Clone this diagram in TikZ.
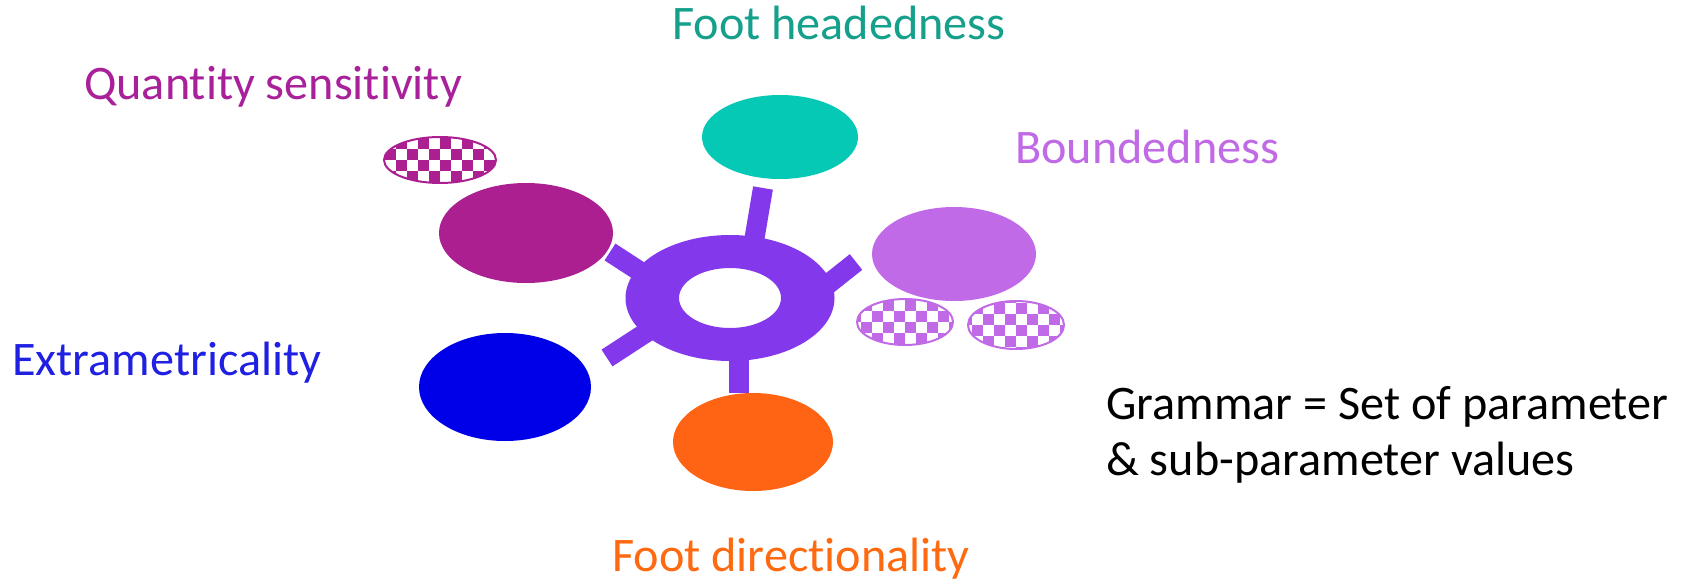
\documentclass[tikz,border=0pt]{standalone}
\usepackage{fontspec}
\setmainfont{Carlito}[Ligatures={NoCommon}]
\usetikzlibrary{shapes.geometric}
\definecolor{tealF}{HTML}{05C8B5}
\definecolor{tealT}{HTML}{14A08A}
\definecolor{magF}{HTML}{AB1F90}
\definecolor{magT}{HTML}{A8219A}
\definecolor{lilF}{HTML}{C06AE8}
\definecolor{lilT}{HTML}{C06AE6}
\definecolor{bluF}{HTML}{0000E8}
\definecolor{bluT}{HTML}{2020E2}
\definecolor{orgF}{HTML}{FF6415}
\definecolor{orgT}{HTML}{FF6A10}
\definecolor{hubC}{HTML}{8338EC}
\newcommand{\checkell}[5]{%
  \begin{scope}
    \clip (#1,#2) ellipse [x radius=#3, y radius=#4];
    \foreach \i in {-6,...,5}{
      \foreach \j in {-3,...,2}{
        \pgfmathtruncatemacro{\pty}{mod(\i+\j+20,2)}
        \ifnum\pty=0
          \fill[#5] ({#1+\i*11},{#2+\j*11}) rectangle ++(11,11);
        \fi
      }
    }
  \end{scope}
  \draw[#5, line width=2] (#1,#2) ellipse [x radius=#3, y radius=#4];
}
\begin{document}
\begin{tikzpicture}[x=1pt,y=-1pt,
  blob/.style={ellipse, draw=none, inner sep=0pt},
  lab/.style={anchor=base west, inner sep=0pt, font=\fontsize{48.2}{56}\selectfont},
  spoke/.style={hubC, line width=20pt, line cap=butt}]
\useasboundingbox (0,0) rectangle (1683,581);
% ellipses
\node[blob, fill=tealF, minimum width=156, minimum height=84] (fh) at (780,137) {};
\node[blob, fill=magF, minimum width=174, minimum height=100] (qs) at (526,233) {};
\node[blob, fill=bluF, minimum width=172, minimum height=108] (ex) at (505,387) {};
\node[blob, fill=orgF, minimum width=160, minimum height=98] (fd) at (753,442) {};
\node[blob, fill=lilF, minimum width=164, minimum height=94] (bd) at (954,254) {};
% checkered sub-parameter ellipses
\checkell{440}{160}{56}{23}{magF}
\checkell{905}{322}{48}{23}{lilF}
\checkell{1016}{325}{48}{24}{lilF}
% spokes
\coordinate (t1) at (763,188); \coordinate (t2) at (753,247);
\coordinate (b1) at (739,393); \coordinate (b2) at (739,345);
\coordinate (lu1) at (610,252); \coordinate (lu2) at (650,278);
\coordinate (ll1) at (607,358); \coordinate (ll2) at (650,330);
\coordinate (r1) at (856,262); \coordinate (r2) at (822,289);
\draw[spoke] (t1) -- (t2);
\draw[spoke] (b1) -- (b2);
\draw[spoke] (lu1) -- (lu2);
\draw[spoke] (ll1) -- (ll2);
\draw[spoke] (r1) -- (r2);
% hub ring
\coordinate (hub) at (730,298);
\fill[hubC, even odd rule] (hub) ellipse [x radius=104.5, y radius=63]
  (hub) ellipse [x radius=51, y radius=30];
% labels
\node[lab, text=tealT] (lfh) at (672,39) {Foot headedness};
\node[lab, text=magT] (lqs) at (84,99) {Quantity sensitivity};
\node[lab, text=lilT] (lbd) at (1015,163) {Boundedness};
\node[lab, text=bluT] (lex) at (12,375) {Extrametricality};
\node[lab, text=orgT] (lfd) at (612,571) {Foot directionality};
\node[lab, text=black] (gr1) at (1106,419) {Grammar = Set of parameter};
\node[lab, text=black] (gr2) at (1106,475) {\& sub-parameter values};
\end{tikzpicture}
\end{document}
